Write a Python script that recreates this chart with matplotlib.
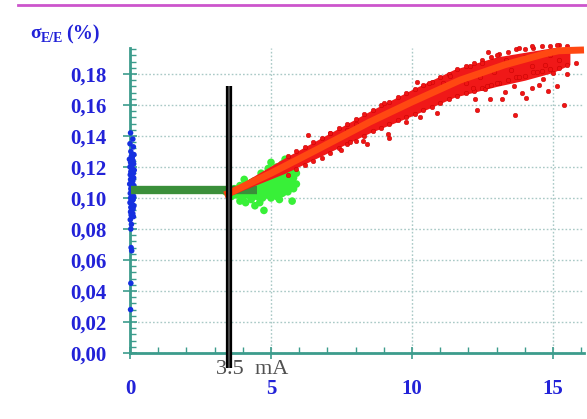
import matplotlib
matplotlib.use("Agg")
import matplotlib.pyplot as plt
from matplotlib.ticker import MultipleLocator, FixedLocator
from matplotlib.lines import Line2D

# ---------------- data ----------------
x_major = [0, 5, 10, 15]
x_labels = ["0", "5", "10", "15"]
y_major = [0.00, 0.02, 0.04, 0.06, 0.08, 0.10, 0.12, 0.14, 0.16, 0.18]
y_labels = ["0,00", "0,02", "0,04", "0,06", "0,08", "0,10", "0,12", "0,14", "0,16", "0,18"]

# blue points at I = 0
blue_x = [0.02, 0.10, 0.0, 0.12, 0.03, 0.14, 0.05, -0.02, 0.11, 0.02, 0.13, 0.04, 0.0, 0.08, 0.15,
          0.03, 0.12, 0.01, 0.07, 0.13, 0.02, 0.10, 0.04, -0.01, 0.14, 0.06, 0.03, 0.12, 0.01, 0.09,
          0.13, 0.02, 0.10, 0.04, 0.0, 0.08, 0.14, 0.03, 0.11, 0.05, 0.02, 0.10, 0.04, 0.12, 0.01,
          0.05, 0.03, 0.04, 0.06, 0.03, 0.02, 0.08, 0.06, 0.09, 0.05, 0.11, 0.07]
blue_y = [0.142, 0.138, 0.135, 0.133, 0.130, 0.128, 0.127, 0.125, 0.124, 0.123, 0.122, 0.121,
          0.120, 0.119, 0.118, 0.117, 0.116, 0.115, 0.114, 0.113, 0.112, 0.111, 0.110, 0.109,
          0.108, 0.107, 0.106, 0.104, 0.103, 0.102, 0.101, 0.100, 0.099, 0.098, 0.097, 0.096,
          0.095, 0.094, 0.093, 0.092, 0.091, 0.090, 0.089, 0.088, 0.086, 0.083, 0.080, 0.068,
          0.066, 0.045, 0.028, 0.126, 0.118, 0.112, 0.105, 0.099, 0.093]

# dark green plateau band
band_x = [0.05, 4.5]
band_y = [0.105, 0.105]

# light green cloud: dense core envelope + scattered points
gcore_x = [3.6, 4.0, 4.5, 5.0, 5.5, 5.85]
gcore_lo = [0.100, 0.100, 0.100, 0.100, 0.102, 0.106]
gcore_hi = [0.106, 0.108, 0.111, 0.117, 0.123, 0.124]
green_x = [3.4, 3.6, 3.7, 3.8, 3.9, 4.0, 4.0, 4.1, 4.2, 4.2, 4.3, 4.3, 4.4, 4.4, 4.5, 4.5, 4.6,
           4.6, 4.7, 4.7, 4.8, 4.8, 4.9, 4.9, 5.0, 5.0, 5.0, 5.1, 5.1, 5.2, 5.2, 5.2, 5.3, 5.3,
           5.4, 5.4, 5.4, 5.5, 5.5, 5.5, 5.6, 5.6, 5.6, 5.7, 5.7, 5.7, 5.8, 5.8, 5.8, 5.9, 5.9,
           5.9, 5.0, 4.9, 4.6, 4.43, 4.75, 5.3, 5.75, 3.9, 4.1, 4.05, 4.35, 4.65, 4.95, 5.25,
           5.55, 5.85, 5.15, 5.45]
green_y = [0.104, 0.101, 0.106, 0.103, 0.108, 0.100, 0.105, 0.109, 0.102, 0.107, 0.110, 0.099,
           0.104, 0.111, 0.101, 0.107, 0.113, 0.103, 0.109, 0.100, 0.115, 0.105, 0.111, 0.102,
           0.118, 0.107, 0.100, 0.113, 0.104, 0.120, 0.109, 0.101, 0.116, 0.106, 0.122, 0.111,
           0.103, 0.118, 0.108, 0.125, 0.114, 0.104, 0.121, 0.110, 0.124, 0.117, 0.106, 0.113,
           0.120, 0.116, 0.109, 0.123, 0.123, 0.119, 0.097, 0.095, 0.092, 0.099, 0.098, 0.098,
           0.097, 0.112, 0.106, 0.116, 0.114, 0.113, 0.119, 0.126, 0.117, 0.114]

# red cloud: dense core envelope + scattered points (I > 3.5 mA)
rcore_x = [3.5, 4.0, 5.5, 7.0, 8.5, 10.0, 11.5, 13.0, 14.0, 15.0, 15.6]
rcore_lo = [0.101, 0.105, 0.116, 0.129, 0.142, 0.153, 0.165, 0.172, 0.176, 0.181, 0.186]
rcore_hi = [0.105, 0.110, 0.126, 0.141, 0.156, 0.170, 0.183, 0.191, 0.194, 0.197, 0.197]
red_x = [5.6, 5.6, 5.9, 5.9, 6.2, 6.2, 6.5, 6.5, 6.8, 6.8, 7.1, 7.1, 7.4, 7.4, 7.7, 7.7, 8.0, 8.0,
         8.3, 8.3, 8.6, 8.6, 8.9, 8.9, 9.2, 9.2, 9.5, 9.5, 9.8, 9.8, 10.1, 10.1, 10.4, 10.4,
         10.7, 10.7, 11.0, 11.0, 11.3, 11.3, 11.6, 11.6, 11.9, 11.9, 12.2, 12.2, 12.5, 12.5,
         12.8, 12.8, 13.1, 13.1, 13.4, 13.4, 13.7, 13.7, 14.0, 14.0, 14.3, 14.3, 14.6, 14.6,
         14.9, 14.9, 15.2, 15.2, 15.5, 15.5,
         6.3, 7.5, 7.8, 7.1, 7.7, 8.0, 8.27, 8.4, 9.2, 9.0, 9.15, 9.8, 10.3, 10.17, 10.6, 11.1,
         11.35, 10.9,
         12.7, 13.0, 13.8, 14.25, 15.13, 15.8, 15.5, 15.13, 14.83, 14.5, 14.25, 14.06, 13.9,
         13.6, 13.3, 13.18, 12.77, 12.6, 12.23, 12.3, 13.65, 15.4, 14.45, 14.7, 15.2, 13.5,
         12.9, 12.4, 12.06, 11.9, 12.5, 13.35, 14.0, 14.9, 14.65, 15.0, 13.0, 13.8, 14.25,
         12.65, 12.17]
red_y = [0.127, 0.115, 0.130, 0.119, 0.133, 0.121, 0.136, 0.124, 0.139, 0.126, 0.142, 0.129,
         0.145, 0.132, 0.148, 0.135, 0.151, 0.137, 0.154, 0.140, 0.157, 0.143, 0.160, 0.145,
         0.162, 0.148, 0.165, 0.150, 0.168, 0.152, 0.170, 0.154, 0.173, 0.157, 0.175, 0.159,
         0.178, 0.161, 0.180, 0.164, 0.183, 0.166, 0.185, 0.168, 0.187, 0.169, 0.189, 0.171,
         0.191, 0.173, 0.193, 0.174, 0.194, 0.176, 0.196, 0.178, 0.196, 0.179, 0.197, 0.181,
         0.198, 0.182, 0.198, 0.183, 0.199, 0.184, 0.198, 0.186,
         0.1406, 0.131, 0.136, 0.142, 0.144, 0.148, 0.137, 0.135, 0.139, 0.161, 0.141, 0.149,
         0.152, 0.175, 0.174, 0.174, 0.179, 0.155,
         0.194, 0.192, 0.197, 0.198, 0.199, 0.187, 0.180, 0.172, 0.169, 0.173, 0.1707, 0.1643,
         0.1675, 0.172, 0.1686, 0.164, 0.164, 0.170, 0.164, 0.157, 0.1535, 0.160, 0.1815,
         0.186, 0.189, 0.1826, 0.181, 0.178, 0.185, 0.174, 0.187, 0.189, 0.191, 0.192, 0.177,
         0.1806, 0.174, 0.178, 0.185, 0.172, 0.171]

# fitted red curve
fit_x = [3.35, 3.5, 5.0, 6.5, 8.5, 10.0, 11.7, 12.5, 13.3, 14.1, 14.7, 15.2, 16.1]
fit_y = [0.102, 0.103, 0.116, 0.130, 0.149, 0.162, 0.176, 0.181, 0.186, 0.190, 0.193, 0.195, 0.1955]

threshold = 3.5
threshold_label = "3.5  mA"

# ---------------- figure ----------------
W, H = 587, 419
fig = plt.figure(figsize=(W / 100, H / 100), dpi=100)
fig.patch.set_facecolor("white")

x0, x1 = 0, 16.1
y0, y1 = 0, 0.197
left, bottom = 130 / W, (H - 353) / H
width = 454 / W
height = (0.197 * 1550) / H
ax = fig.add_axes([left, bottom, width, height])
ax.set_xlim(x0, x1)
ax.set_ylim(y0, y1)

teal = "#3c9c8c"
blue = "#2222d8"
gridc = "#a9c9c6"

for s in ["top", "right"]:
    ax.spines[s].set_visible(False)
for s in ["left", "bottom"]:
    ax.spines[s].set_color(teal)
    ax.spines[s].set_linewidth(2.0)

ax.xaxis.set_major_locator(FixedLocator(x_major))
ax.xaxis.set_minor_locator(FixedLocator([1, 2, 3, 4, 6, 7, 8, 9, 11, 12, 13, 14, 16]))
ax.yaxis.set_major_locator(FixedLocator(y_major))
ax.yaxis.set_minor_locator(MultipleLocator(0.004))
ax.set_xticklabels(x_labels)
ax.set_yticklabels(y_labels)

for lab in ax.get_xticklabels() + ax.get_yticklabels():
    lab.set_fontfamily("Liberation Serif")
    lab.set_fontweight("bold")
    lab.set_fontsize(15)
    lab.set_color(blue)

ax.tick_params(axis="x", which="major", direction="inout", length=8, width=1.2, color=teal, pad=15)
ax.tick_params(axis="x", which="minor", direction="in", length=4, width=1.0, color=teal)
ax.tick_params(axis="y", which="major", direction="inout", length=10, width=1.2, color=teal, pad=12)
ax.tick_params(axis="y", which="minor", direction="in", length=4, width=1.0, color=teal)

ax.grid(True, which="major", color=gridc, linestyle=(0, (1.2, 1.5)), linewidth=1.0)
ax.set_axisbelow(True)

# blue cloud at zero current
ax.scatter(blue_x, blue_y, s=16, color="#1530e0", edgecolors="none", zorder=3, clip_on=False)

# light green cloud
ax.fill_between(gcore_x, gcore_lo, gcore_hi, color="#38f038", linewidth=0, zorder=3)
ax.scatter(green_x, green_y, s=30, color="#38f038", edgecolors="none", zorder=3)

# dark green plateau band
ax.plot(band_x, band_y, color="#3a8f3a", linewidth=6, solid_capstyle="butt", zorder=4)

# red cloud
ax.fill_between(rcore_x, rcore_lo, rcore_hi, color="#f01818", linewidth=0, zorder=5)
ax.scatter(red_x, red_y, s=11, color="#f01414", edgecolors="#c00000", linewidths=0.3,
           zorder=5, clip_on=False)
ax.plot(fit_x, fit_y, color="#ff4812", linewidth=5, solid_capstyle="butt", zorder=6, clip_on=False)

# threshold line
ax.plot([threshold, threshold], [-0.0097, 0.1725], color="black", linewidth=4.5,
        solid_capstyle="butt", zorder=7, clip_on=False)
ax.plot([threshold, threshold], [-0.0097, 0.1725], color="#555555", linewidth=1.2,
        solid_capstyle="butt", zorder=8, clip_on=False)
ax.text(threshold + 0.82, -0.0138, threshold_label, ha="center", va="baseline",
        family="Liberation Serif", size=16, color="#505050", zorder=9, clip_on=False)

# y label  sigma_{E/E} (%)
fig.text(30 / W, 1 - 38 / H, "σ", family="Liberation Serif", weight="bold", size=14,
         color=blue, va="baseline", ha="left")
fig.text(41 / W, 1 - 42 / H, "E/E", family="Liberation Serif", weight="bold", size=10,
         color=blue, va="baseline", ha="left")
fig.text(66 / W, 1 - 39 / H, "(%)", family="Liberation Serif", weight="bold", size=14.5,
         color=blue, va="baseline", ha="left")

# magenta top rule
fig.add_artist(Line2D([18 / W, 1.0], [1 - 5 / H, 1 - 5 / H], color="#cc55cc", linewidth=2))

fig.savefig("out.png", dpi=100)
